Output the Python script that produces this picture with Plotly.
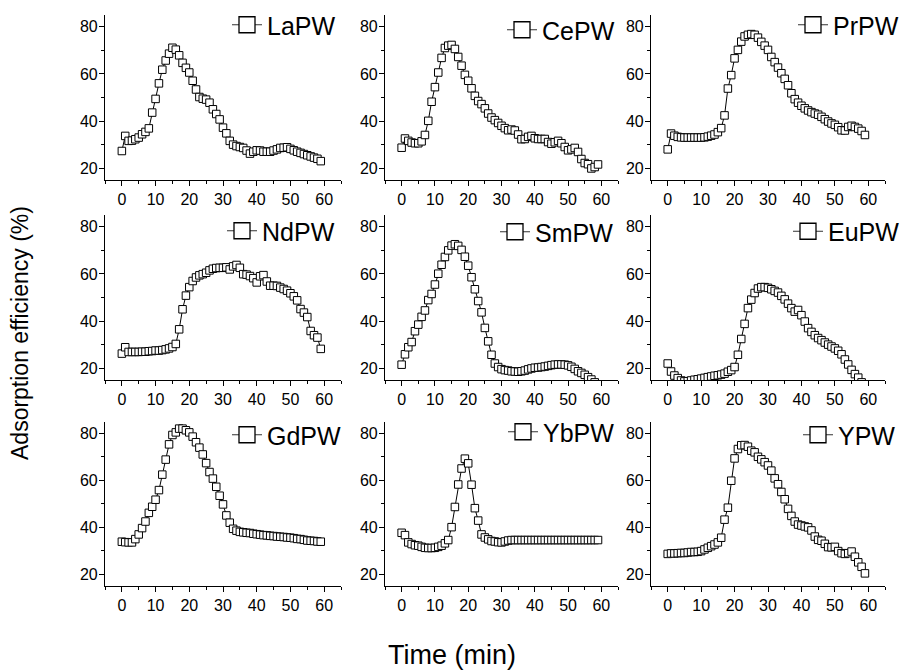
import plotly.graph_objects as go

time_min = list(range(60))

panel_names = ["LaPW", "CePW", "PrPW", "NdPW", "SmPW", "EuPW", "GdPW", "YbPW", "YPW"]

la_pw = [27.3, 33.7, 31.6, 31.7, 32.3, 33.0, 34.4, 35.4, 36.9, 43.6,
         49.4, 56.0, 61.8, 65.7, 68.6, 71.1, 70.3, 67.9, 64.7, 62.6,
         60.6, 57.1, 53.4, 50.2, 49.5, 49.1, 47.8, 45.0, 43.0, 40.7,
         37.2, 34.8, 31.6, 30.0, 29.4, 29.0, 28.6, 27.5, 26.2, 27.0,
         27.6, 27.5, 27.0, 27.0, 27.0, 27.5, 28.0, 28.6, 28.7, 28.9,
         28.2, 27.6, 27.0, 26.5, 26.0, 25.5, 25.0, 24.5, 24.0, 23.0]

ce_pw = [28.7, 32.6, 31.6, 30.9, 30.6, 30.6, 31.4, 34.1, 40.1, 48.2,
         54.4, 60.6, 66.8, 71.0, 72.0, 72.3, 70.6, 67.2, 63.5, 59.6,
         57.1, 53.9, 50.7, 48.5, 47.2, 45.4, 43.2, 41.5, 40.4, 39.2,
         38.0, 37.0, 36.1, 36.4, 36.0, 34.3, 32.3, 32.4, 33.3, 33.7,
         32.7, 32.4, 32.4, 32.4, 31.1, 30.4, 31.0, 31.6, 30.6, 29.0,
         27.6, 28.0, 28.6, 26.9, 23.9, 22.2, 21.7, 19.9, 20.5, 21.6]

pr_pw = [28.0, 34.7, 33.8, 33.3, 33.1, 33.0, 33.0, 33.0, 33.0, 33.0,
         33.0, 33.1, 33.4, 33.8, 34.3, 35.3, 37.0, 42.4, 53.8, 59.5,
         66.6, 70.2, 73.7, 75.9, 76.6, 76.9, 76.6, 75.4, 73.6, 72.0,
         70.2, 67.2, 65.0, 62.7, 60.3, 57.9, 55.2, 51.8, 49.3, 47.8,
         46.5, 45.4, 44.5, 43.8, 43.2, 42.7, 41.8, 40.8, 39.8, 39.0,
         38.4, 37.4, 36.1, 36.0, 37.5, 38.0, 37.5, 36.8, 35.8, 34.1]

nd_pw = [26.2, 28.9, 26.9, 26.9, 26.9, 26.9, 27.0, 27.0, 27.2, 27.3,
         27.5, 27.5, 27.7, 28.0, 28.4, 29.0, 30.3, 36.5, 45.0, 50.8,
         54.4, 57.0, 58.5, 59.4, 59.9, 60.5, 61.5, 62.2, 62.5, 62.6,
         62.6, 62.8, 61.9, 63.2, 63.8, 62.6, 59.9, 59.7, 59.1, 58.2,
         56.4, 59.0, 59.5, 56.8, 55.0, 55.0, 54.9, 54.2, 53.6, 52.9,
         51.8, 50.5, 48.8, 45.1, 43.6, 41.7, 35.8, 34.0, 33.0, 28.2]

sm_pw = [21.5, 25.9, 28.9, 31.1, 35.7, 38.5, 41.8, 44.5, 48.9, 51.5,
         55.5, 60.1, 63.9, 67.2, 70.0, 72.0, 72.6, 71.9, 70.2, 67.3,
         63.5, 58.6, 53.5, 48.5, 43.7, 37.1, 31.4, 25.7, 22.0, 20.5,
         19.6, 19.2, 19.0, 18.7, 18.6, 18.5, 18.7, 19.0, 19.5, 19.9,
         20.2, 20.3, 20.5, 20.7, 21.0, 21.3, 21.5, 21.6, 21.6, 21.5,
         21.2, 20.6, 19.7, 18.7, 18.0, 17.2, 16.2, 15.2, 14.0, 12.9]

eu_pw = [22.0, 18.6, 16.9, 15.8, 14.8, 14.4, 14.5, 14.8, 15.1, 15.3,
         15.6, 15.9, 16.2, 16.5, 16.8, 17.0, 17.3, 17.7, 18.5, 19.2,
         20.5, 25.7, 32.4, 38.8, 45.5, 49.1, 51.9, 53.8, 54.4, 54.4,
         54.1, 53.5, 52.8, 52.1, 50.7, 49.2, 47.4, 45.5, 44.0, 44.7,
         42.5, 39.8, 37.0, 35.4, 34.0, 32.8, 31.9, 30.9, 30.0, 29.2,
         28.4, 27.4, 25.9, 23.7, 21.6, 19.3, 17.5, 16.0, 14.0, 11.9]

gd_pw = [33.8, 33.6, 33.5, 33.5, 34.9, 36.9, 39.6, 42.4, 46.1, 48.7,
         51.7, 55.8, 62.4, 68.8, 75.3, 79.3, 80.4, 82.0, 82.0, 81.3,
         80.4, 78.6, 76.2, 73.9, 71.0, 67.3, 63.5, 60.7, 57.2, 53.4,
         49.7, 45.0, 41.9, 39.3, 38.5, 38.0, 37.8, 37.6, 37.5, 37.2,
         37.0, 36.8, 36.6, 36.5, 36.3, 36.2, 36.0, 35.9, 35.8, 35.6,
         35.5, 35.3, 35.0, 34.9, 34.6, 34.3, 34.2, 34.1, 33.9, 33.8]

yb_pw = [37.6, 36.6, 33.5, 32.8, 32.3, 32.1, 31.6, 31.2, 31.1, 31.1,
         31.2, 31.6, 32.1, 33.1, 34.5, 40.0, 48.6, 58.2, 65.0, 69.2,
         67.2, 58.1, 48.1, 42.8, 36.9, 35.6, 34.8, 34.1, 33.9, 33.6,
         33.5, 33.9, 34.3, 34.5, 34.5, 34.5, 34.5, 34.5, 34.5, 34.5,
         34.5, 34.5, 34.5, 34.5, 34.5, 34.5, 34.5, 34.5, 34.5, 34.5,
         34.5, 34.5, 34.5, 34.5, 34.5, 34.5, 34.5, 34.5, 34.5, 34.5]

y_pw = [28.6, 28.8, 28.8, 28.9, 29.0, 29.0, 29.2, 29.4, 29.4, 29.5,
        29.8, 30.5, 31.2, 31.9, 32.6, 33.5, 35.5, 43.2, 48.3, 59.8,
        69.3, 73.3, 74.9, 75.0, 74.3, 72.6, 71.9, 70.0, 68.9, 67.7,
        66.3, 64.1, 60.8, 58.3, 55.0, 51.9, 47.8, 44.8, 42.4, 41.1,
        40.7, 40.3, 39.9, 38.6, 36.0, 34.6, 34.2, 32.9, 31.5, 31.4,
        31.6, 29.8, 28.9, 28.6, 28.9, 29.6, 27.4, 25.0, 23.1, 20.3]

series = [la_pw, ce_pw, pr_pw, nd_pw, sm_pw, eu_pw, gd_pw, yb_pw, y_pw]

x_tick_vals = [0, 10, 20, 30, 40, 50, 60]
y_tick_vals = [20, 40, 60, 80]

x_title = "Time (min)"
y_title = "Adsorption efficiency (%)"

W, H = 905, 670
FONT = "Arial, Liberation Sans, sans-serif"

# panel geometry in pixels
col_px = [(105, 341), (385, 618), (651, 885)]
row_px = [(15, 180), (215, 380), (421.6, 585.8)]
# legend text start (px) and vertical centre (px)
leg_x_px = [268, 543, 834, 263, 536, 829, 268, 544, 839]
leg_y_px = [25, 30, 25, 231, 232, 231.5, 435, 432, 435]

fig = go.Figure()
layout = dict(
    width=W, height=H,
    margin=dict(l=0, r=0, t=0, b=0, autoexpand=False),
    paper_bgcolor="white", plot_bgcolor="white",
    font=dict(family=FONT, color="black", size=16),
    annotations=[],
)

for i, (name, vals) in enumerate(zip(panel_names, series)):
    r, c = divmod(i, 3)
    k = "" if i == 0 else str(i + 1)
    leg = "legend" if i == 0 else f"legend{i + 1}"
    # data
    fig.add_trace(go.Scatter(
        x=time_min, y=vals, name=name,
        mode="lines+markers",
        line=dict(color="black", width=1),
        marker=dict(symbol="square", size=7.5, color="white",
                    line=dict(color="black", width=1)),
        xaxis="x" + k, yaxis="y" + k,
        showlegend=False,
    ))
    # legend entry (no data, larger symbol)
    fig.add_trace(go.Scatter(
        x=[None], y=[None], name=name,
        mode="lines+markers",
        line=dict(color="#333333", width=1),
        marker=dict(symbol="square", size=16, color="white",
                    line=dict(color="black", width=1.3)),
        xaxis="x" + k, yaxis="y" + k, legend=leg,
        showlegend=True, hoverinfo="skip",
    ))
    x0, x1 = col_px[c]
    y0, y1 = row_px[r]
    layout["xaxis" + k] = dict(
        domain=[x0 / W, x1 / W], anchor="y" + k,
        range=[-5, 65], tickvals=x_tick_vals,
        ticks="outside", ticklen=5, tickwidth=1, tickcolor="black",
        ticklabelstandoff=0,
        showline=True, linecolor="black", linewidth=1.2,
        showgrid=False, zeroline=False,
        tickfont=dict(size=16, family=FONT, color="black"),
        minor=dict(dtick=5, tick0=0, ticks="outside", ticklen=3,
                   tickcolor="black", tickwidth=1, showgrid=False),
    )
    layout["yaxis" + k] = dict(
        domain=[1 - y1 / H, 1 - y0 / H], anchor="x" + k,
        range=[15, 85], tickvals=y_tick_vals,
        ticks="outside", ticklen=5, tickwidth=1, tickcolor="black",
        ticklabelstandoff=-2,
        showline=True, linecolor="black", linewidth=1.2,
        showgrid=False, zeroline=False,
        tickfont=dict(size=16, family=FONT, color="black"),
        minor=dict(dtick=10, tick0=0, ticks="outside", ticklen=3,
                   tickcolor="black", tickwidth=1, showgrid=False),
    )
    layout[leg] = dict(
        x=(leg_x_px[i] - 41) / W, y=1 - leg_y_px[i] / H,
        xanchor="left", yanchor="middle", xref="paper", yref="paper",
        bgcolor="rgba(0,0,0,0)", borderwidth=0,
        font=dict(size=25, family=FONT, color="black"),
        itemsizing="trace",
    )

layout["annotations"].append(dict(
    text=y_title, x=20 / W, y=1 - 333 / H, xref="paper", yref="paper",
    xanchor="center", yanchor="middle",
    textangle=-90, showarrow=False, font=dict(size=23, family=FONT, color="black"),
))
layout["annotations"].append(dict(
    text=x_title, x=452 / W, y=1 - 655 / H, xref="paper", yref="paper",
    xanchor="center", yanchor="middle",
    showarrow=False, font=dict(size=27, family=FONT, color="black"),
))

fig.update_layout(**layout)
fig.write_html("out.html", config={"displayModeBar": False},
               post_script="document.body.style.margin='0';")
